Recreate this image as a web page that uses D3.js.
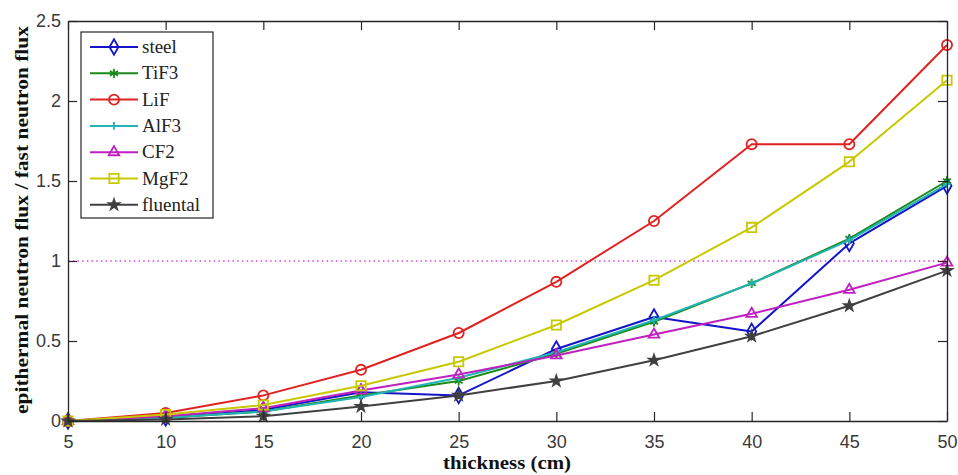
<!DOCTYPE html>
<html>
<head>
<meta charset="utf-8">
<script src="https://cdn.jsdelivr.net/npm/d3@7"></script>
<style>
  html, body { margin: 0; padding: 0; background: #fff; }
  svg { display: block; }
</style>
</head>
<body>
<svg id="chart" width="958" height="475"></svg>
<script>
// Shield thickness (cm)
const thickness = [5, 10, 15, 20, 25, 30, 35, 40, 45, 50];

// Ratio of epithermal to fast neutron flux for each moderator material
const steel    = [0, 0.02, 0.07, 0.18, 0.16, 0.45, 0.65, 0.56, 1.11, 1.47];
const TiF3     = [0, 0.02, 0.06, 0.16, 0.25, 0.42, 0.62, 0.86, 1.14, 1.50];
const LiF      = [0, 0.05, 0.16, 0.32, 0.55, 0.87, 1.25, 1.73, 1.73, 2.35];
const AlF3     = [0, 0.02, 0.06, 0.15, 0.27, 0.43, 0.63, 0.86, 1.13, 1.48];
const CF2      = [0, 0.03, 0.08, 0.19, 0.29, 0.41, 0.54, 0.67, 0.82, 0.99];
const MgF2     = [0, 0.04, 0.10, 0.22, 0.37, 0.60, 0.88, 1.21, 1.62, 2.13];
const fluental = [0, 0.01, 0.03, 0.09, 0.16, 0.25, 0.38, 0.53, 0.72, 0.94];

const seriesNames = ["steel", "TiF3", "LiF", "AlF3", "CF2", "MgF2", "fluental"];
const seriesValues = [steel, TiF3, LiF, AlF3, CF2, MgF2, fluental];

const xTicks = [5, 10, 15, 20, 25, 30, 35, 40, 45, 50];
const yTicks = [0, 0.5, 1, 1.5, 2, 2.5];
const referenceLevel = 1;

// Per-series styling
const colors = ["#1414c8", "#1a8a1a", "#e02222", "#22b4b4", "#c020c0", "#c8c800", "#404040"];
const markers = [
  { type: d3.symbolDiamond,  size: 70, fill: false },
  { type: d3.symbolAsterisk, size: 60, fill: false },
  { type: d3.symbolCircle,   size: 80, fill: false },
  { type: d3.symbolPlus,     size: 22, fill: false },
  { type: d3.symbolTriangle2,size: 80, fill: false },
  { type: d3.symbolSquare2,  size: 110, fill: false },
  { type: d3.symbolStar,     size: 32, fill: true }
];

const svg = d3.select("#chart");
const plot = { left: 68, right: 947, top: 21, bottom: 421 };

const x = d3.scaleLinear().domain([5, 50]).range([plot.left, plot.right]);
const y = d3.scaleLinear().domain([0, 2.5]).range([plot.bottom, plot.top]);

const axisColor = "#262626";
const tickFont = "'Liberation Sans', Arial, sans-serif";
const serifFont = "'Liberation Serif', 'Times New Roman', serif";

// Reference line at ratio = 1
svg.append("line")
  .attr("x1", x(5)).attr("x2", x(50))
  .attr("y1", y(referenceLevel)).attr("y2", y(referenceLevel))
  .attr("stroke", "#e040e0").attr("stroke-width", 1.4)
  .attr("stroke-dasharray", "1.5,3.2");

// Data lines and markers
const line = d3.line().x((d, i) => x(thickness[i])).y(d => y(d));

seriesValues.forEach((vals, s) => {
  const g = svg.append("g");
  g.append("path")
    .datum(vals)
    .attr("d", line)
    .attr("fill", "none")
    .attr("stroke", colors[s])
    .attr("stroke-width", 2)
    .attr("stroke-linejoin", "round");
  const sym = d3.symbol().type(markers[s].type).size(markers[s].size);
  g.selectAll("path.mk")
    .data(vals)
    .join("path")
    .attr("class", "mk")
    .attr("transform", (d, i) => `translate(${x(thickness[i])},${y(d)})`)
    .attr("d", sym)
    .attr("fill", markers[s].fill ? colors[s] : "none")
    .attr("stroke", colors[s])
    .attr("stroke-width", 1.8);
});

// Axes box with inward ticks on all four sides
const tickLen = 9;
const axisBottom = d3.axisBottom(x).tickValues(xTicks).tickSizeInner(-tickLen).tickSizeOuter(0).tickPadding(14).tickFormat(d3.format("d"));
const axisTop = d3.axisTop(x).tickValues(xTicks).tickSizeInner(-tickLen).tickSizeOuter(0).tickFormat("");
const axisLeft = d3.axisLeft(y).tickValues(yTicks).tickSizeInner(-tickLen).tickSizeOuter(0).tickPadding(7).tickFormat(d => d3.format("")(d));
const axisRight = d3.axisRight(y).tickValues(yTicks).tickSizeInner(-tickLen).tickSizeOuter(0).tickFormat("");

function styleAxis(g) {
  g.selectAll("path.domain").attr("stroke", axisColor).attr("stroke-width", 1.3);
  g.selectAll(".tick line").attr("stroke", axisColor).attr("stroke-width", 1.2);
  g.selectAll(".tick text")
    .attr("fill", "#3a3a3a")
    .attr("font-family", tickFont)
    .attr("font-size", 18);
}

svg.append("g").attr("transform", `translate(0,${plot.bottom})`).call(axisBottom).call(styleAxis);
svg.append("g").attr("transform", `translate(0,${plot.top})`).call(axisTop).call(styleAxis);
svg.append("g").attr("transform", `translate(${plot.left},0)`).call(axisLeft).call(styleAxis);
svg.append("g").attr("transform", `translate(${plot.right},0)`).call(axisRight).call(styleAxis);

// Axis titles
svg.append("text")
  .attr("x", 507).attr("y", 469)
  .attr("text-anchor", "middle")
  .attr("font-family", serifFont)
  .attr("font-weight", "bold")
  .attr("font-size", 18)
  .attr("textLength", 128)
  .attr("lengthAdjust", "spacingAndGlyphs")
  .attr("fill", "#111")
  .text("thickness (cm)");

svg.append("text")
  .attr("transform", "translate(28,220) rotate(-90)")
  .attr("text-anchor", "middle")
  .attr("font-family", serifFont)
  .attr("font-weight", "bold")
  .attr("font-size", 18)
  .attr("textLength", 388)
  .attr("lengthAdjust", "spacingAndGlyphs")
  .attr("fill", "#111")
  .text("epithermal neutron flux / fast neutron flux");

// Legend
const legend = { x: 81, y: 32, w: 132, h: 186, rowStart: 47, rowStep: 26.3 };
svg.append("rect")
  .attr("x", legend.x).attr("y", legend.y)
  .attr("width", legend.w).attr("height", legend.h)
  .attr("fill", "#fff")
  .attr("stroke", axisColor).attr("stroke-width", 1.2);

seriesNames.forEach((name, s) => {
  const ry = legend.rowStart + s * legend.rowStep;
  const g = svg.append("g");
  g.append("line")
    .attr("x1", 90).attr("x2", 138).attr("y1", ry).attr("y2", ry)
    .attr("stroke", colors[s]).attr("stroke-width", 2);
  g.append("path")
    .attr("transform", `translate(114,${ry})`)
    .attr("d", d3.symbol().type(markers[s].type).size(markers[s].size))
    .attr("fill", markers[s].fill ? colors[s] : "none")
    .attr("stroke", colors[s]).attr("stroke-width", 1.8);
  g.append("text")
    .attr("x", 142).attr("y", ry + 6)
    .attr("font-family", serifFont)
    .attr("font-size", 19)
    .attr("fill", "#222")
    .text(name);
});
</script>
</body>
</html>
